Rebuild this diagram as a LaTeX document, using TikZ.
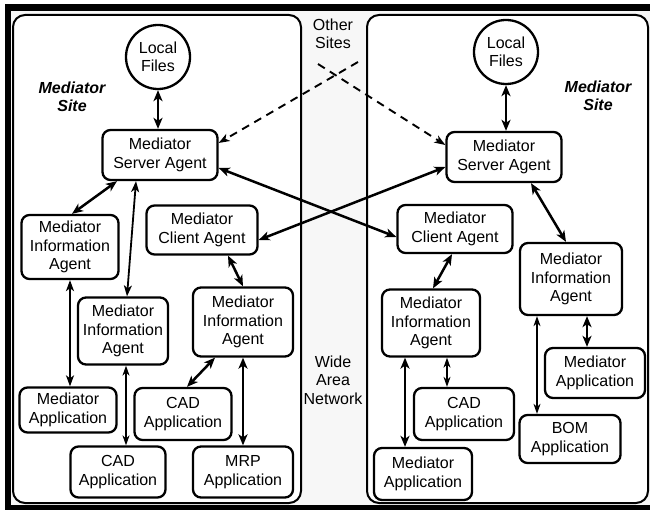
\documentclass[tikz,border=0pt]{standalone}
\usepackage{fontspec}
\setmainfont{Liberation Sans}
\usetikzlibrary{arrows.meta,calc}
\begin{document}
\begin{tikzpicture}[x=1pt,y=-1pt,
  agent/.style={draw,line width=2.3pt,rounded corners=8pt,fill=white,align=center,
    inner sep=0pt,font=\fontsize{16}{18.5}\selectfont},
  filenode/.style={draw,circle,line width=2.3pt,fill=white,align=center,inner sep=0pt,
    minimum size=64pt,font=\fontsize{16}{18.5}\selectfont},
  sitebox/.style={draw,line width=2pt,rounded corners=12pt,fill=white},
  lbl/.style={align=center,font=\fontsize{16}{18.5}\selectfont},
  sitelbl/.style={align=center,font=\fontsize{16}{18.5}\selectfont\bfseries\itshape},
  link/.style={{Stealth[length=11pt,width=9pt,inset=3pt]}-{Stealth[length=11pt,width=9pt,inset=3pt]},line width=2.5pt},
  linkm/.style={{Stealth[length=11pt,width=8pt,inset=3pt]}-{Stealth[length=11pt,width=8pt,inset=3pt]},line width=1.8pt},
  linkt/.style={{Stealth[length=10pt,width=7pt,inset=3pt]}-{Stealth[length=10pt,width=7pt,inset=3pt]},line width=1.3pt},
  dlink/.style={-{Stealth[length=11pt,width=8pt,inset=3pt]},line width=1.9pt,dash pattern=on 8pt off 6pt}
]
\useasboundingbox (0,0) rectangle (650,510);
% frame
\fill[black] (5,4) rectangle (650,510);
\fill[gray!6] (11,11) rectangle (650,505);
\draw[sitebox] (13,15) rectangle (301,503);
\draw[sitebox] (367,15) rectangle (648,503);

% middle labels
\node[lbl] (other) at (333,34) {Other\\Sites};
\node[lbl] (wan) at (333,380) {Wide\\Area\\Network};

% left site
\node[sitelbl] (siteL) at (72,97) {Mediator\\Site};
\node[filenode] (filesL) at (158,57) {Local\\Files};
\node[agent,minimum width=115pt,minimum height=50pt] (srvL) at (160,155) {Mediator\\Server Agent};
\node[agent,minimum width=111pt,minimum height=49pt] (cliL) at (202,230) {Mediator\\Client Agent};
\node[agent,minimum width=97pt,minimum height=64pt] (miaA) at (70,247) {Mediator\\Information\\Agent};
\node[agent,minimum width=90pt,minimum height=67pt] (miaB) at (123,331) {Mediator\\Information\\Agent};
\node[agent,minimum width=100pt,minimum height=69pt] (miaC) at (243,322) {Mediator\\Information\\Agent};
\node[agent,minimum width=97pt,minimum height=45pt] (appL) at (68,410) {Mediator\\Application};
\node[agent,minimum width=97pt,minimum height=52pt] (cadA) at (183,414) {CAD\\Application};
\node[agent,minimum width=95pt,minimum height=51pt] (cadB) at (118,472) {CAD\\Application};
\node[agent,minimum width=100pt,minimum height=51pt] (mrp) at (243,472) {MRP\\Application};

% right site
\node[sitelbl] (siteR) at (598,96) {Mediator\\Site};
\node[filenode] (filesR) at (506,52) {Local\\Files};
\node[agent,minimum width=115pt,minimum height=50pt] (srvR) at (504,157) {Mediator\\Server Agent};
\node[agent,minimum width=115pt,minimum height=48pt] (cliR) at (455,229) {Mediator\\Client Agent};
\node[agent,minimum width=98pt,minimum height=67pt] (miaD) at (431,323) {Mediator\\Information\\Agent};
\node[agent,minimum width=102pt,minimum height=72pt] (miaE) at (571,279) {Mediator\\Information\\Agent};
\node[agent,minimum width=100pt,minimum height=50pt] (appR2) at (595,373) {Mediator\\Application};
\node[agent,minimum width=100pt,minimum height=52pt] (cadR) at (464,414) {CAD\\Application};
\node[agent,minimum width=101pt,minimum height=48pt] (bom) at (570,439) {BOM\\Application};
\node[agent,minimum width=98pt,minimum height=52pt] (appR1) at (423,474) {Mediator\\Application};

% helper coordinates on borders
\coordinate (bB) at ($(miaB.south)+(3,0)$);
\coordinate (dC) at ($(miaD.south)+(16,0)$);
\coordinate (dA) at ($(miaD.south)+(-26,0)$);
\coordinate (eA) at ($(miaE.south)+(16,0)$);
\coordinate (eB) at ($(miaE.south)+(-34,0)$);

% left links
\draw[link] (filesL.south) -- (filesL.south |- srvL.north);
\draw[link] ($(srvL.south)+(-43,0)$) -- ($(miaA.north)+(2,0)$);
\draw[linkm] ($(srvL.south)+(-24,0)$) -- ($(miaB.north)+(4,0)$);
\draw[link] ($(cliL.south)+(26,0)$) -- (miaC.north);
\draw[linkm] (miaA.south) -- (miaA.south |- appL.north);
\draw[linkt] (bB) -- (bB |- cadB.north);
\draw[link] ($(miaC.south)+(-28,0)$) -- ($(cadA.north)+(4,0)$);
\draw[link] (miaC.south) -- (miaC.south |- mrp.north);

% cross links
\draw[link] ($(srvL.east)+(0,13)$) -- ($(cliR.west)+(0,8)$);
\draw[link] ($(srvR.west)+(0,10)$) -- ($(cliL.east)+(0,10)$);
\coordinate (oA) at (358,62);
\coordinate (oB) at (318,64);
\draw[dlink] (oA) -- ($(srvL.east)+(0,-12)$);
\draw[dlink] (oB) -- ($(srvR.west)+(0,-12)$);

% right links
\draw[link] (filesR.south) -- (filesR.south |- srvR.north);
\draw[link] ($(srvR.south)+(27,0)$) -- ($(miaE.north)+(-5,0)$);
\draw[link] ($(cliR.south)+(-3,0)$) -- ($(miaD.north)+(2,0)$);
\draw[linkt] (dC) -- (dC |- cadR.north);
\draw[link] (dA) -- (dA |- appR1.north);
\draw[link] (eA) -- (eA |- appR2.north);
\draw[linkt] (eB) -- (eB |- bom.north);
\end{tikzpicture}
\end{document}
